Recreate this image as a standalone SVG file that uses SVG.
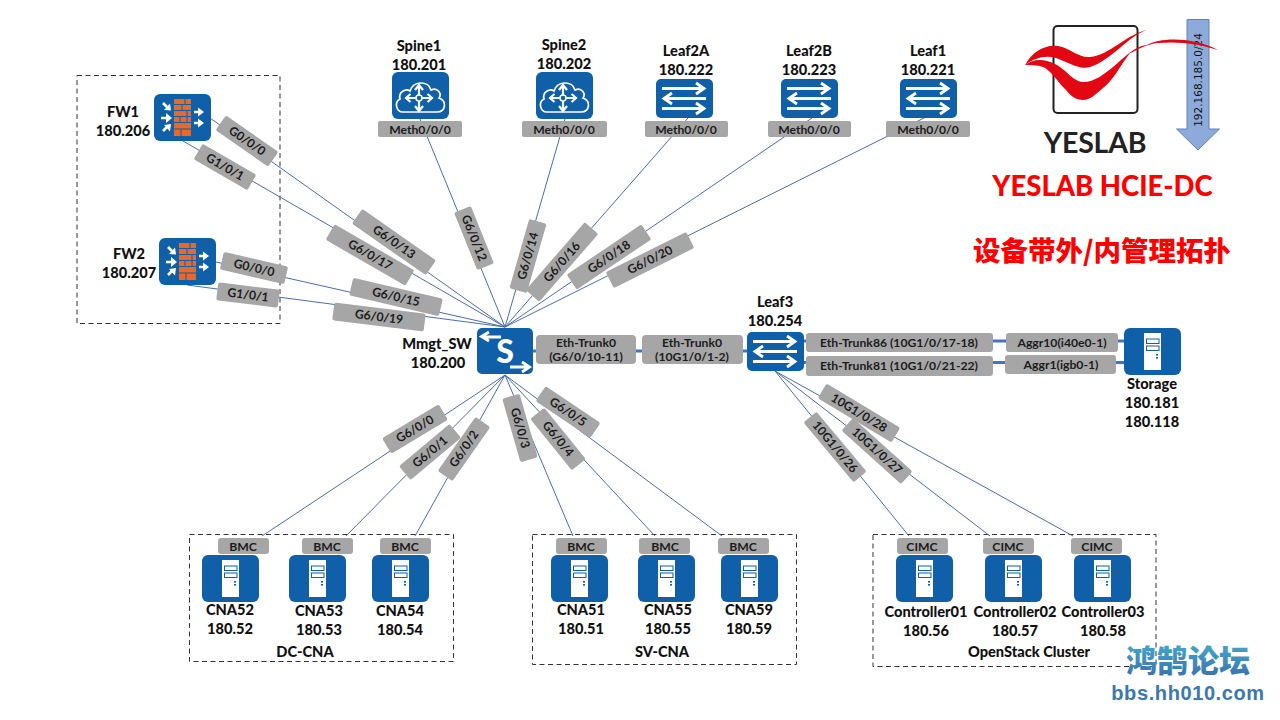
<svg xmlns="http://www.w3.org/2000/svg" width="1280" height="720" viewBox="0 0 1280 720">
<style>
text{font-family:"Lato","Noto Sans CJK SC",sans-serif;font-weight:900;fill:#111;text-anchor:middle}
.name{font-size:14.6px}
.port{font-size:12.2px;fill:#1c1c1c;font-weight:700}
.tag{fill:#a6a6a6}
.thin{stroke:#4a6db0;stroke-width:1;fill:none}
.thick{stroke:#4472c4;stroke-width:3;fill:none}
.box{fill:none;stroke:#333;stroke-width:1;stroke-dasharray:5 3.5}
.tile{fill:#0f5fa9}
.wl{stroke:#fff;fill:none;stroke-width:2.8}
.wf{fill:#fff}
</style>
<defs>
<linearGradient id="wm" x1="0" y1="0" x2="0" y2="1"><stop offset="0" stop-color="#45b4cf"/><stop offset="1" stop-color="#3a6cab"/></linearGradient>
<g id="server"><rect class="tile" width="57" height="47" rx="6"/><rect class="wf" x="20" y="5" width="17" height="37"/><rect x="22.500" y="11" width="12.500" height="4.500" fill="#fff" stroke="#0f5fa9"/><rect x="22.500" y="18" width="12.500" height="4.500" fill="#fff" stroke="#0f5fa9"/><rect x="32" y="26" width="2" height="1.600" fill="#0f5fa9"/><rect x="32" y="29" width="2" height="1.600" fill="#0f5fa9"/></g>
<g id="sw"><rect class="tile" width="57" height="39" rx="5"/><path class="wl" d="M6 9.500H47M40 4L48 9.500L40 15M50 19.500H9M16 14L8 19.500L16 25M6 29.500H47M40 24L48 29.500L40 35"/></g>
<g id="spine"><rect class="tile" width="57" height="47" rx="6"/><path d="M11 40C4 40 2 30 8 27C6 20 14 16 18 19C21 9 36 8 39 18C46 15 50 22 47 26C55 29 54 40 45 40Z" fill="none" stroke="#fff" stroke-width="1.700"/><path d="M27 14V38M15 26H39M23 18L27 13L31 18M23 34L27 39L31 34M18.500 22L14 26L18.500 30M35.500 22L40 26L35.500 30" fill="none" stroke="#fff" stroke-width="2.200"/><circle cx="27" cy="26" r="3" fill="#0f5fa9" stroke="#fff" stroke-width="1.500"/></g>
<g id="fw"><rect class="tile" width="57" height="47" rx="6"/><rect x="20" y="5" width="17" height="37" fill="#e8692a"/><path d="M20 10.500H37M20 16.500H37M20 22.500H37M20 28.500H37M20 35H37M28 10.500V16.500M33 16.500V22.500M26 22.500V28.500M33 22.500V28.500M27 35V42M31 5V10.500" stroke="#0f5fa9" stroke-width="1" fill="none"/><path d="M9 9L13 13M7 24H12M9 37L13 33" stroke="#fff" stroke-width="2.600" fill="none"/><path d="M10 16L17 16.500L16 9.500ZM12 19L18 24L12 29ZM10 31L17 30L16 37.500Z" fill="#fff"/><path d="M40 18H45M40 29H45" stroke="#fff" stroke-width="2.600"/><path d="M44 13.500L50 18L44 22.500ZM44 24.500L50 29L44 33.500Z" fill="#fff"/></g>
</defs>
<rect width="1280" height="720" fill="#fff"/>

<!-- dashed enclosures -->
<g id="groups">
<rect class="box" x="77" y="75.500" width="203" height="248"/>
<rect class="box" x="189.500" y="534.500" width="264" height="127"/>
<rect class="box" x="532.500" y="534.500" width="264" height="130"/>
<rect class="box" x="873" y="534.500" width="283" height="132"/>
<text x="305" y="657" class="name">DC-CNA</text>
<text x="662" y="657" class="name">SV-CNA</text>
<text x="1029" y="657" class="name">OpenStack Cluster</text>
</g>

<!-- links -->
<g id="connectors">
<path class="thin" d="M210 118L505 327M183 141L505 327M216 262L505 327M187 285L505 327M420 119L505 327M565 119L505 327M688 118L505 327M812 118L505 327M928 116L505 327"/>
<path class="thin" d="M505 375L262 536M505 375L346 536M505 375L415 536M505 375L573 536M505 375L655 536M505 375L722 536"/>
<path class="thin" d="M775 371L909 536M775 371L990 536M775 371L1073 536"/>
<path class="thick" d="M533 351H747M803 341H1124M803 362.500H1124"/>
</g>

<!-- port tags -->
<g id="ports">
<g transform="translate(247 141) rotate(35)"><rect class="tag" x="-32" y="-9" width="64" height="18" rx="2"/><text class="port" y="4">G0/0/0</text></g>
<g transform="translate(225 167) rotate(30)"><rect class="tag" x="-31" y="-9" width="62" height="18" rx="2"/><text class="port" y="4">G1/0/1</text></g>
<g transform="translate(394 242) rotate(35)"><rect class="tag" x="-45" y="-9" width="90" height="18" rx="2"/><text class="port" y="4">G6/0/13</text></g>
<g transform="translate(370 255) rotate(30)"><rect class="tag" x="-46" y="-9" width="92" height="18" rx="2"/><text class="port" y="4">G6/0/17</text></g>
<g transform="translate(254 268) rotate(13)"><rect class="tag" x="-33" y="-9" width="66" height="18" rx="2"/><text class="port" y="4">G0/0/0</text></g>
<g transform="translate(248 295) rotate(7)"><rect class="tag" x="-31" y="-9" width="62" height="18" rx="2"/><text class="port" y="4">G1/0/1</text></g>
<g transform="translate(396 297) rotate(13)"><rect class="tag" x="-46" y="-9" width="92" height="18" rx="2"/><text class="port" y="4">G6/0/15</text></g>
<g transform="translate(379 317) rotate(7)"><rect class="tag" x="-46" y="-9" width="92" height="18" rx="2"/><text class="port" y="4">G6/0/19</text></g>
<g transform="translate(474 238) rotate(68)"><rect class="tag" x="-31" y="-9" width="62" height="18" rx="2"/><text class="port" y="4">G6/0/12</text></g>
<g transform="translate(528 256) rotate(-74)"><rect class="tag" x="-36" y="-9" width="72" height="18" rx="2"/><text class="port" y="4">G6/0/14</text></g>
<g transform="translate(562 262) rotate(-49)"><rect class="tag" x="-45" y="-9" width="90" height="18" rx="2"/><text class="port" y="4">G6/0/16</text></g>
<g transform="translate(609 257) rotate(-34)"><rect class="tag" x="-45" y="-9" width="90" height="18" rx="2"/><text class="port" y="4">G6/0/18</text></g>
<g transform="translate(650 260) rotate(-26.500)"><rect class="tag" x="-45" y="-9" width="90" height="18" rx="2"/><text class="port" y="4">G6/0/20</text></g>
<g transform="translate(415 429) rotate(-31)"><rect class="tag" x="-33" y="-9" width="66" height="18" rx="2"/><text class="port" y="4">G6/0/0</text></g>
<g transform="translate(430 452) rotate(-40)"><rect class="tag" x="-33" y="-9" width="66" height="18" rx="2"/><text class="port" y="4">G6/0/1</text></g>
<g transform="translate(464 449) rotate(-55)"><rect class="tag" x="-33" y="-9" width="66" height="18" rx="2"/><text class="port" y="4">G6/0/2</text></g>
<g transform="translate(520 428) rotate(74)"><rect class="tag" x="-33" y="-9" width="66" height="18" rx="2"/><text class="port" y="4">G6/0/3</text></g>
<g transform="translate(558 439) rotate(51)"><rect class="tag" x="-33" y="-9" width="66" height="18" rx="2"/><text class="port" y="4">G6/0/4</text></g>
<g transform="translate(568 412) rotate(34)"><rect class="tag" x="-33" y="-9" width="66" height="18" rx="2"/><text class="port" y="4">G6/0/5</text></g>
<g transform="translate(835 447) rotate(50)"><rect class="tag" x="-39" y="-8.500" width="78" height="17" rx="2"/><text class="port" y="4">10G1/0/26</text></g>
<g transform="translate(877 451) rotate(42)"><rect class="tag" x="-40" y="-8.500" width="80" height="17" rx="2"/><text class="port" y="4">10G1/0/27</text></g>
<g transform="translate(859 413) rotate(31)"><rect class="tag" x="-43" y="-8.500" width="86" height="17" rx="2"/><text class="port" y="4">10G1/0/28</text></g>

<rect class="tag" x="378" y="121" width="84" height="16" rx="2"/><text class="port" x="420" y="133.500">Meth0/0/0</text>
<rect class="tag" x="522" y="121" width="85" height="16" rx="2"/><text class="port" x="564" y="133.500">Meth0/0/0</text>
<rect class="tag" x="645" y="121" width="83" height="16" rx="2"/><text class="port" x="686" y="133.500">Meth0/0/0</text>
<rect class="tag" x="768" y="121" width="83" height="16" rx="2"/><text class="port" x="809" y="133.500">Meth0/0/0</text>
<rect class="tag" x="886" y="121" width="84" height="16" rx="2"/><text class="port" x="928" y="133.500">Meth0/0/0</text>

<rect class="tag" x="536" y="335" width="100" height="29" rx="4"/><text class="port" x="586" y="346.500">Eth-Trunk0</text><text class="port" x="586" y="361">(G6/0/10-11)</text>
<rect class="tag" x="642" y="335" width="101" height="29" rx="4"/><text class="port" x="692" y="346.500">Eth-Trunk0</text><text class="port" x="692" y="361">(10G1/0/1-2)</text>
<rect class="tag" x="806" y="333" width="187" height="19" rx="3"/><text class="port" x="899" y="347">Eth-Trunk86 (10G1/0/17-18)</text>
<rect class="tag" x="806" y="356" width="187" height="20" rx="3"/><text class="port" x="899" y="370">Eth-Trunk81 (10G1/0/21-22)</text>
<rect class="tag" x="1006" y="333" width="112" height="19" rx="3"/><text class="port" x="1062" y="347">Aggr10(i40e0-1)</text>
<rect class="tag" x="1005" y="355" width="111" height="19" rx="3"/><text class="port" x="1061" y="369">Aggr1(igb0-1)</text>

<rect class="tag" x="218" y="538" width="51" height="16" rx="3"/><text class="port" x="243" y="550.500">BMC</text>
<rect class="tag" x="302" y="538" width="51" height="16" rx="3"/><text class="port" x="327" y="550.500">BMC</text>
<rect class="tag" x="380" y="538" width="51" height="16" rx="3"/><text class="port" x="405" y="550.500">BMC</text>
<rect class="tag" x="556" y="538" width="51" height="16" rx="3"/><text class="port" x="581" y="550.500">BMC</text>
<rect class="tag" x="639" y="538" width="51" height="16" rx="3"/><text class="port" x="665" y="550.500">BMC</text>
<rect class="tag" x="718" y="538" width="51" height="16" rx="3"/><text class="port" x="743" y="550.500">BMC</text>
<rect class="tag" x="897" y="538" width="51" height="16" rx="3"/><text class="port" x="922" y="550.500">CIMC</text>
<rect class="tag" x="983" y="538" width="51" height="16" rx="3"/><text class="port" x="1008" y="550.500">CIMC</text>
<rect class="tag" x="1071" y="538" width="51" height="16" rx="3"/><text class="port" x="1097" y="550.500">CIMC</text>
</g>

<!-- devices -->
<g id="fw1"><use href="#fw" x="154" y="94"/><text class="name" x="123" y="117">FW1</text><text class="name" x="123" y="136">180.206</text></g>
<g id="fw2"><use href="#fw" x="159" y="238"/><text class="name" x="129" y="259">FW2</text><text class="name" x="129" y="278">180.207</text></g>
<g id="spine1"><use href="#spine" x="392" y="72"/><text class="name" x="419" y="51">Spine1</text><text class="name" x="419" y="70">180.201</text></g>
<g id="spine2"><use href="#spine" x="536" y="72"/><text class="name" x="564" y="50">Spine2</text><text class="name" x="564" y="69">180.202</text></g>
<g id="leaf2a"><use href="#sw" x="656" y="79"/><text class="name" x="686" y="56">Leaf2A</text><text class="name" x="686" y="75">180.222</text></g>
<g id="leaf2b"><use href="#sw" x="781" y="79"/><text class="name" x="809" y="56">Leaf2B</text><text class="name" x="809" y="75">180.223</text></g>
<g id="leaf1"><use href="#sw" x="900" y="79"/><text class="name" x="928" y="56">Leaf1</text><text class="name" x="928" y="75">180.221</text></g>
<g id="mmgt"><rect class="tile" x="477" y="328" width="56" height="46" rx="5"/><text x="505" y="363" style="font-size:32px;fill:#fff">S</text><path class="wl" d="M501 337H482M489 332L481.500 336.500L489 341M510 367H529M522 362L529.500 367L522 372"/><text class="name" x="437" y="349">Mmgt_SW</text><text class="name" x="438" y="368">180.200</text></g>
<g id="leaf3"><use href="#sw" x="747" y="332"/><text class="name" x="775" y="307">Leaf3</text><text class="name" x="775" y="326">180.254</text></g>
<g id="storage"><use href="#server" x="1124" y="328"/><text class="name" x="1152" y="389">Storage</text><text class="name" x="1152" y="408">180.181</text><text class="name" x="1152" y="427">180.118</text></g>
<g id="cna52"><use href="#server" x="202" y="555"/><text class="name" x="230" y="615">CNA52</text><text class="name" x="230" y="634">180.52</text></g>
<g id="cna53"><use href="#server" x="289" y="555"/><text class="name" x="319" y="616">CNA53</text><text class="name" x="319" y="635">180.53</text></g>
<g id="cna54"><use href="#server" x="372" y="555"/><text class="name" x="400" y="616">CNA54</text><text class="name" x="400" y="635">180.54</text></g>
<g id="cna51"><use href="#server" x="551" y="555"/><text class="name" x="581" y="615">CNA51</text><text class="name" x="581" y="634">180.51</text></g>
<g id="cna55"><use href="#server" x="638" y="555"/><text class="name" x="668" y="615">CNA55</text><text class="name" x="668" y="634">180.55</text></g>
<g id="cna59"><use href="#server" x="721" y="555"/><text class="name" x="749" y="615">CNA59</text><text class="name" x="749" y="634">180.59</text></g>
<g id="controller01"><use href="#server" x="896" y="555"/><text class="name" x="926" y="617">Controller01</text><text class="name" x="926" y="636">180.56</text></g>
<g id="controller02"><use href="#server" x="985" y="555"/><text class="name" x="1015" y="617">Controller02</text><text class="name" x="1015" y="636">180.57</text></g>
<g id="controller03"><use href="#server" x="1074" y="555"/><text class="name" x="1103" y="617">Controller03</text><text class="name" x="1103" y="636">180.58</text></g>

<!-- subnet arrow -->
<g id="subnet">
<path d="M1187 19.500H1209V129H1219.500L1198 150L1176.500 129H1187Z" fill="#8eaadb" stroke="#5f82b8"/>
<text transform="translate(1202 80) rotate(-90)" style="font-family:'DejaVu Sans',sans-serif;font-size:10.500px;font-weight:400">192.168.185.0/24</text>
</g>

<!-- brand mark and titles -->
<g id="brand">
<rect x="1053.500" y="26" width="84" height="87" rx="4" fill="none" stroke="#222" stroke-width="2"/>
<path d="M1025 65C1032 52 1045 44 1058 46C1070 48 1078 58 1090 57C1110 55 1125 35 1147 30C1128 36 1112 60 1090 67C1078 70 1068 62 1056 58C1045 55 1035 58 1025 65Z" fill="#e30613"/>
<path d="M1025 65C1035 58 1045 59 1057 65C1066 70 1074 82 1083 82C1095 82 1104 74 1113 67C1126 56 1135 46 1147 45C1160 38 1190 36 1218 50C1200 44 1180 41 1157 43C1140 46 1135 52 1130 53C1120 66 1112 82 1103 88C1095 95 1090 100 1083 100C1072 100 1067 90 1063 87C1055 78 1050 70 1043 67C1037 65 1030 65 1025 65Z" fill="#e30613"/>
<text x="1095" y="153" style="font-size:28.500px;fill:#222;font-weight:700;letter-spacing:-.2px">YESLAB</text>
<text x="1102.500" y="196" style="font-size:27.500px;fill:#f00">YESLAB HCIE-DC</text>
<text x="1102" y="261" style="font-size:27.500px;fill:#f00;font-family:'Noto Sans CJK SC',sans-serif">设备带外/内管理拓扑</text>
</g>

<!-- forum mark -->
<g id="forum">
<text x="1188" y="672" style="font-size:31px;fill:url(#wm);font-family:'Noto Sans CJK SC',sans-serif">鸿鹄论坛</text>
<text x="1188" y="700" style="font-size:20px;font-weight:700;fill:#3a78ad;font-family:'Liberation Sans',sans-serif;letter-spacing:.6px">bbs.hh010.com</text>
</g>
</svg>
